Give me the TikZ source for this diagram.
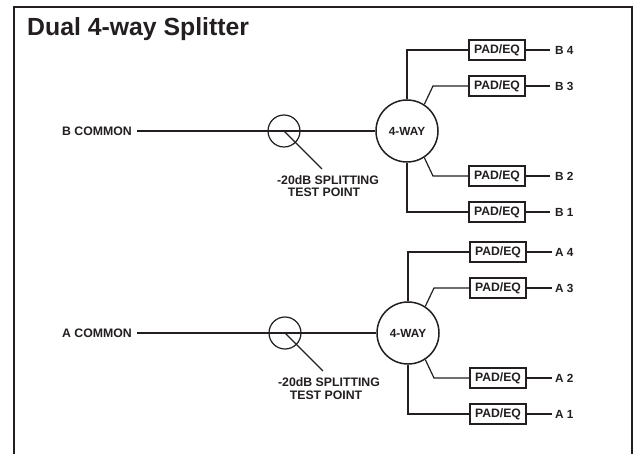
\documentclass[tikz,border=0pt]{standalone}
\usepackage{fontspec}
\setmainfont{Liberation Sans}
\definecolor{ink}{HTML}{231F20}
\tikzset{
  wire/.style={draw=ink,line width=1.5pt},
  thin wire/.style={draw=ink,line width=1.2pt},
  padbox/.style={draw=ink,line width=1.5pt,fill=white,minimum width=56pt,minimum height=20pt,inner sep=0pt,text=ink,font=\bfseries\fontsize{12.2}{12}\selectfont},
  bigcirc/.style={circle,draw=ink,line width=1.5pt,fill=white,minimum size=62pt,inner sep=0pt,text=ink,font=\bfseries\fontsize{11.8}{12}\selectfont},
  testcirc/.style={circle,draw=ink,line width=1.2pt,minimum size=32pt,inner sep=0pt},
  lab/.style={text=ink,inner sep=0pt,font=\bfseries\fontsize{11.8}{12}\selectfont},
  comlab/.style={text=ink,inner sep=0pt,font=\bfseries\fontsize{12.3}{12}\selectfont},
  tp/.style={text=ink,inner sep=0pt,align=center,font=\bfseries\fontsize{12.3}{12}\selectfont}
}
\begin{document}
\begin{tikzpicture}[x=1pt,y=-1pt]
\useasboundingbox (0,0) rectangle (641,454);
\fill[white] (0,0) rectangle (641,454);
\draw[draw=ink,line width=1.8pt] (14,460) -- (14,7) -- (632,7) -- (632,460);
\node[anchor=west,text=ink,inner sep=0pt,font=\bfseries\fontsize{24.8}{28}\selectfont] (title) at (27,29) {Dual 4-way Splitter};
% B group
\node[comlab,anchor=east] (bc) at (132,131) {B COMMON};
\coordinate (bcs) at (137,131);
\node[testcirc] (bt) at (284,131) {};
\node[bigcirc] (bw) at (407,131) {4-WAY};
\coordinate (btc) at (284,131);
\coordinate (btl) at (322,169);
\draw[wire] (bcs) -- (bw.west);
\draw[thin wire] (btc) -- (btl);
\node[tp] (btp1) at (328,180) {-20dB SPLITTING};
\node[tp] (btp2) at (324,192) {TEST POINT};
\node[padbox] (b4) at (497,50) {PAD/EQ};
\node[padbox] (b3) at (497,86) {PAD/EQ};
\node[padbox] (b2) at (497,176) {PAD/EQ};
\node[padbox] (b1) at (497,212) {PAD/EQ};
\node[lab,anchor=west] (lb4) at (555,50) {B 4};
\node[lab,anchor=west] (lb3) at (555,86) {B 3};
\node[lab,anchor=west] (lb2) at (555,176) {B 2};
\node[lab,anchor=west] (lb1) at (555,212) {B 1};
\draw[wire] (bw.north) |- (b4.west);
\draw[wire] (bw.south) |- (b1.west);
\coordinate (be3) at (433,86);
\coordinate (be2) at (433,176);
\draw[thin wire] (bw.57) -- (be3) -- (b3.west);
\draw[thin wire] (bw.-57) -- (be2) -- (b2.west);
\foreach \i in {1,2,3,4}{\draw[wire] (b\i.east) -- ([xshift=-5pt]lb\i.west);}
% A group
\node[comlab,anchor=east] (ac) at (132,333) {A COMMON};
\coordinate (acs) at (137,333);
\node[testcirc] (at) at (285,333) {};
\node[bigcirc] (aw) at (408,333) {4-WAY};
\coordinate (atc) at (285,333);
\coordinate (atl) at (323,371);
\draw[wire] (acs) -- (aw.west);
\draw[thin wire] (atc) -- (atl);
\node[tp] (atp1) at (329,382) {-20dB SPLITTING};
\node[tp] (atp2) at (326,395) {TEST POINT};
\node[padbox] (a4) at (498,252) {PAD/EQ};
\node[padbox] (a3) at (498,288) {PAD/EQ};
\node[padbox] (a2) at (498,378) {PAD/EQ};
\node[padbox] (a1) at (498,414) {PAD/EQ};
\node[lab,anchor=west] (la4) at (555,252) {A 4};
\node[lab,anchor=west] (la3) at (555,288) {A 3};
\node[lab,anchor=west] (la2) at (555,378) {A 2};
\node[lab,anchor=west] (la1) at (555,414) {A 1};
\draw[wire] (aw.north) |- (a4.west);
\draw[wire] (aw.south) |- (a1.west);
\coordinate (ae3) at (434,288);
\coordinate (ae2) at (434,378);
\draw[thin wire] (aw.57) -- (ae3) -- (a3.west);
\draw[thin wire] (aw.-57) -- (ae2) -- (a2.west);
\foreach \i in {1,2,3,4}{\draw[wire] (a\i.east) -- ([xshift=-3pt]la\i.west);}
\end{tikzpicture}
\end{document}
